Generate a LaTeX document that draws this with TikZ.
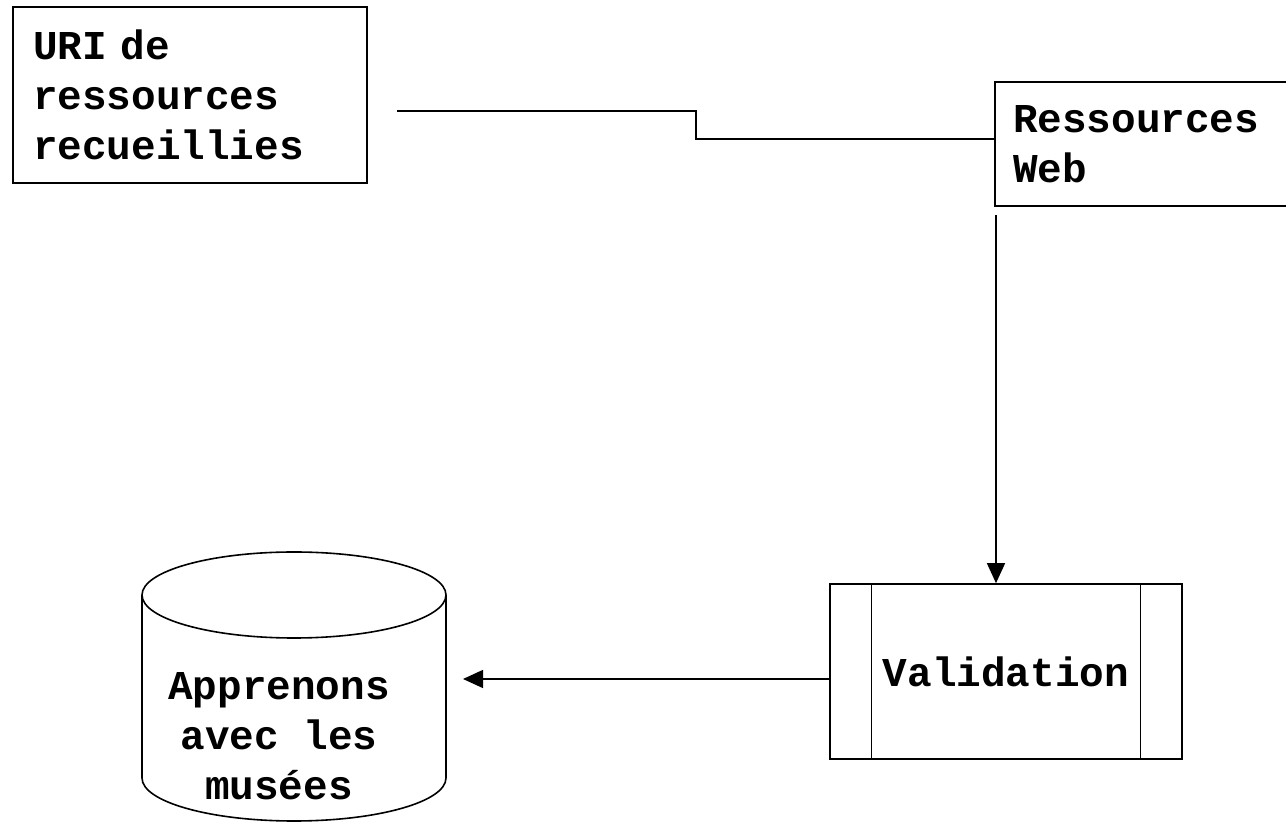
\documentclass[tikz,border=0pt]{standalone}
\usepackage{fontspec}
\setmonofont{Liberation Mono}
\usepackage{tikz}
\usetikzlibrary{shapes.geometric,arrows.meta}
\tikzstyle{box}=[rectangle, draw, line width=0.8pt, inner xsep=10pt, inner ysep=0pt, font=\ttfamily\bfseries\fontsize{20.5}{25}\selectfont, align=left]
\tikzstyle{store}=[cylinder, shape border rotate=90, draw, line width=0.8pt, aspect=1.075, minimum width=152pt, minimum height=134.5pt, inner sep=20pt]
\tikzstyle{storetext}=[font=\ttfamily\bfseries\fontsize{20.5}{25}\selectfont, align=center, inner sep=0pt]
\tikzstyle{link}=[line width=0.7pt]
\tikzstyle{arr}=[link, -{Triangle[width=9pt,length=10pt]}]
\newcommand{\boxnode}{\node[box]}

\begin{document}
\begin{tikzpicture}[x=0.5pt, y=-0.5pt]
            \useasboundingbox (0,0) rectangle (1286,822);
            \boxnode (uri) at (190,95) [text width=157pt, minimum height=88pt]{URI de\\ressources\\recueillies};
            \boxnode (web) at (1155,144) [text width=142pt, minimum height=62pt, inner xsep=9pt]{Ressources\\Web};
            \boxnode (val) at (1006,671.5) [align=center, minimum width=176pt, minimum height=87.5pt]{Validation};
            \node[store, anchor=shape center] (db) at (294,686.5) {};
            \node[storetext] (dbtext) at (279,736) {Apprenons\\avec les\\mus\'ees};
            \draw[line width=0.5pt]
                ([xshift=21pt]val.north west) -- ([xshift=21pt]val.south west)
                ([xshift=-21pt]val.north east) -- ([xshift=-21pt]val.south east)
            ;
            \coordinate (urout) at (397,111);
            \coordinate (step) at (696,139);
            \coordinate (webout) at (996,215);
            \coordinate (dbin) at (463,679);
            \draw[link] (urout) -| (step) -- (step -| web.west);
            \draw[arr] (webout) -- (webout |- val.north);
            \draw[arr] (val.west |- dbin) -- (dbin);
        \end{tikzpicture}
\end{document}
